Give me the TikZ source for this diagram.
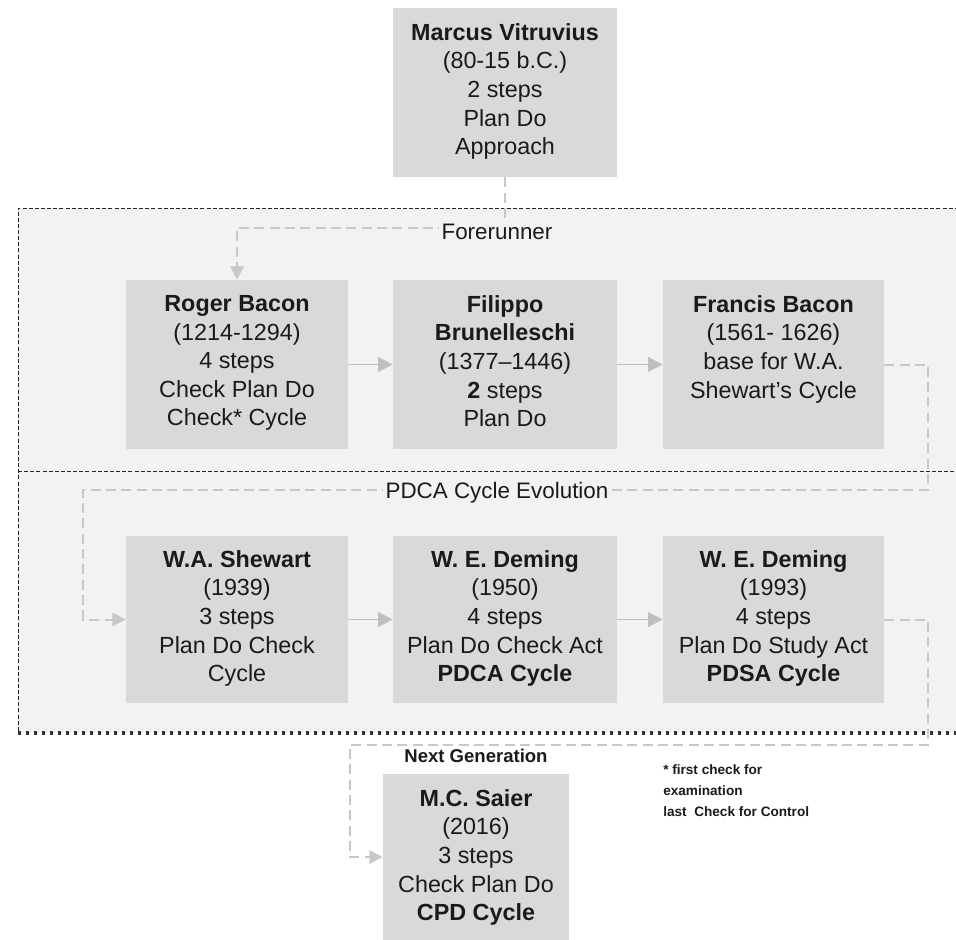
\documentclass[tikz,border=0pt]{standalone}
\usepackage{fontspec}
\setmainfont{Liberation Sans}
\usetikzlibrary{arrows.meta,calc}
\definecolor{boxgray}{HTML}{D9D9D9}
\definecolor{reggray}{HTML}{F2F2F2}
\definecolor{linegray}{HTML}{BFBFBF}
\definecolor{dashgray}{HTML}{C8C8C8}
\definecolor{txtc}{HTML}{1A1A1A}
\begin{document}
\begin{tikzpicture}[x=0.75pt,y=-0.75pt,
  box/.style={fill=boxgray, inner sep=0pt, minimum width=#1, minimum height=126.75pt},
  lbl/.style={anchor=north, inner sep=0pt, align=center, text=txtc,
    font=\fontsize{17.5pt}{21.4pt}\selectfont},
  seclbl/.style={fill=reggray, inner xsep=2pt, inner ysep=1pt, text=txtc,
    font=\fontsize{16.8pt}{20pt}\selectfont},
  arr/.style={draw=linegray, line width=1.3pt, -{Triangle[length=11pt,width=11pt]}},
  darr/.style={draw=dashgray, line width=1.5pt, dash pattern=on 7.5pt off 4pt,
    -{Triangle[length=10pt,width=10pt]}},
  regline/.style={draw=black!85, line width=0.75pt, dash pattern=on 3pt off 1.6pt},
  botline/.style={draw=black!80, line width=2.4pt, dash pattern=on 2.4pt off 3.6pt}
]
\useasboundingbox (0,0) rectangle (956,939);
\clip (0,0) rectangle (956,939);

% regions
\fill[reggray] (18,208) rectangle (965,733);
\draw[regline] (965,208) -- (18,208) -- (18,733);
\draw[regline] (18,471) -- (965,471);

% boxes
\node[box=168pt] (mv) at (505,92.5) {};
\node[box=166.5pt] (rb) at (237,364.5) {};
\node[box=168pt] (fb) at (505,364.5) {};
\node[box=165.75pt] (fc) at (773.5,364.5) {};
\node[box=166.5pt, minimum height=125.25pt] (ws) at (237,619.5) {};
\node[box=168pt, minimum height=125.25pt] (d1) at (505,619.5) {};
\node[box=165.75pt, minimum height=125.25pt] (d2) at (773.5,619.5) {};
\node[box=139.5pt, minimum height=124.5pt] (ms) at (476,857) {};

% texts
\node[lbl] (mvt) at ($(mv.north)+(0,15.5)$) {\textbf{Marcus Vitruvius}\\(80-15 b.C.)\\2 steps\\Plan Do\\Approach};
\node[lbl] (rbt) at ($(rb.north)+(0,15.5)$) {\textbf{Roger Bacon}\\(1214-1294)\\4 steps\\Check Plan Do\\Check* Cycle};
\node[lbl] (fbt) at ($(fb.north)+(0,15.5)$) {\textbf{Filippo}\\\textbf{Brunelleschi}\\(1377–1446)\\\textbf{2} steps\\Plan Do};
\node[lbl] (fct) at ($(fc.north)+(0,15.5)$) {\textbf{Francis Bacon}\\(1561- 1626)\\base for W.A.\\Shewart’s Cycle};
\node[lbl] (wst) at ($(ws.north)+(0,14.5)$) {\textbf{W.A. Shewart}\\(1939)\\3 steps\\Plan Do Check\\Cycle};
\node[lbl] (d1t) at ($(d1.north)+(0,14.5)$) {\textbf{W. E. Deming}\\(1950)\\4 steps\\Plan Do Check Act\\\textbf{PDCA Cycle}};
\node[lbl] (d2t) at ($(d2.north)+(0,14.5)$) {\textbf{W. E. Deming}\\(1993)\\4 steps\\Plan Do Study Act\\\textbf{PDSA Cycle}};
\node[lbl] (mst) at ($(ms.north)+(0,15.5)$) {\textbf{M.C. Saier}\\(2016)\\3 steps\\Check Plan Do\\\textbf{CPD Cycle}};

% solid arrows
\draw[arr] (rb.east) -- (fb.west);
\draw[arr] (fb.east) -- (fc.west);
\draw[arr] (ws.east) -- (d1.west);
\draw[arr] (d1.east) -- (d2.west);

% dashed connectors
\coordinate (c1) at (505,228);
\draw[darr] (mv.south) -- (c1) -| (rb.north);
\coordinate (c2) at (928,490);
\coordinate (c3) at (83,490);
\draw[darr] (fc.east) -| (c2) -- (c3) |- (ws.west);
\coordinate (c4) at (928,745);
\coordinate (c5) at (350,745);
\draw[darr] (d2.east) -| (c4) -- (c5) |- (ms.west);

% bottom border of region
\draw[botline] (18,733) -- (965,733);

% section labels
\node[seclbl] (fr) at (497,232) {Forerunner};
\node[seclbl] (pd) at (497,493) {PDCA Cycle Evolution};
\node[text=txtc, inner sep=0pt, font=\bfseries\fontsize{13.9pt}{16pt}\selectfont] (ng) at (476,756) {Next Generation};
\node[anchor=north west, align=left, inner sep=0pt, text=txtc,
  font=\bfseries\fontsize{10.2pt}{15.75pt}\selectfont] (fn) at (663,764)
  {* first check for\\examination\\last\ \ Check for Control};
\end{tikzpicture}
\end{document}
